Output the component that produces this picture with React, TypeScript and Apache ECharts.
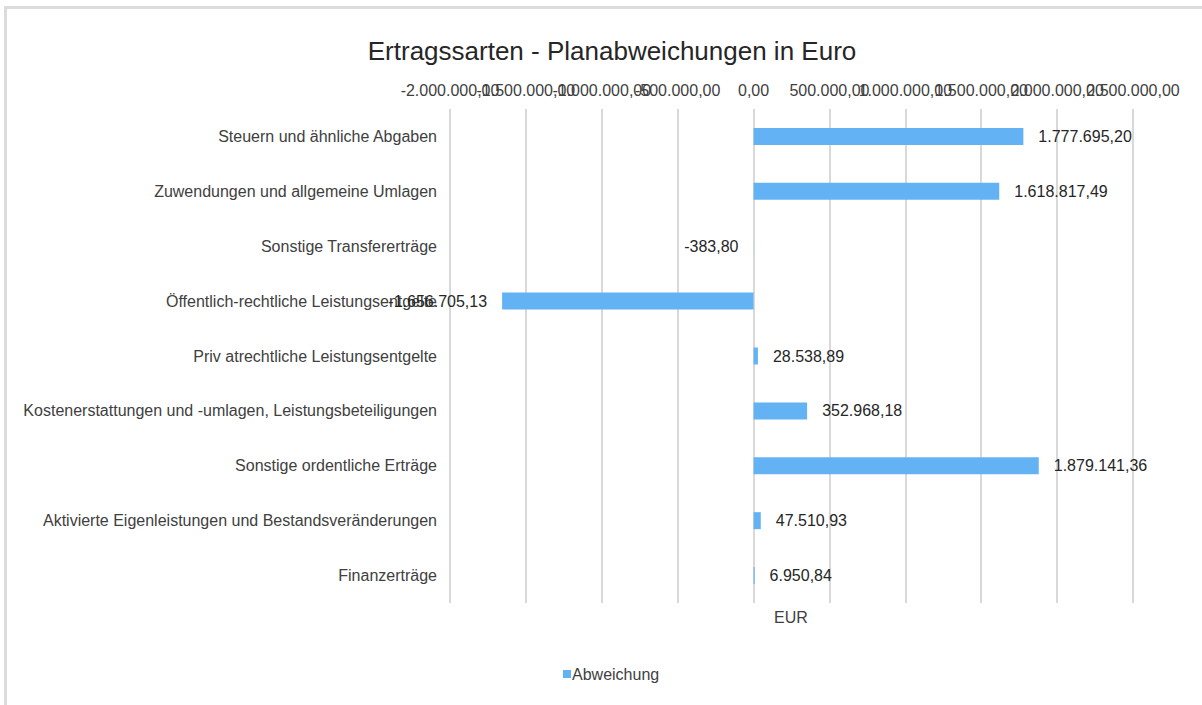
import React, { useEffect, useRef } from "react";
import * as echarts from "echarts";

const categories = [
  "Steuern und ähnliche Abgaben",
  "Zuwendungen und allgemeine Umlagen",
  "Sonstige Transfererträge",
  "Öffentlich-rechtliche Leistungsentgelte",
  "Priv atrechtliche Leistungsentgelte",
  "Kostenerstattungen und -umlagen, Leistungsbeteiligungen",
  "Sonstige ordentliche Erträge",
  "Aktivierte Eigenleistungen und Bestandsveränderungen",
  "Finanzerträge",
];
const abweichung = [
  1777695.2, 1618817.49, -383.8, -1656705.13, 28538.89, 352968.18, 1879141.36, 47510.93, 6950.84,
];
const axisMin = -2000000;
const axisMax = 2500000;
const axisStep = 500000;

function fmtDE(v: number): string {
  const neg = v < 0;
  const a = Math.abs(v);
  const fixed = a.toFixed(2);
  const [intPart, dec] = fixed.split(".");
  const withDots = intPart.replace(/\B(?=(\d{3})+(?!\d))/g, ".");
  return (neg ? "-" : "") + withDots + "," + dec;
}

const FONT = "Liberation Sans, Arial, sans-serif";

function makeXAxis(parity: number, showGrid: boolean) {
  return {
    type: "value",
    position: "top",
    offset: 0,
    min: axisMin,
    max: axisMax,
    interval: axisStep,
    axisLine: { show: false },
    axisTick: { show: false },
    splitLine: { show: showGrid, lineStyle: { color: "#d9d9d9", width: 2 } },
    axisLabel: {
      margin: 11,
      fontFamily: FONT,
      fontSize: 16,
      color: "#404040",
      showMinLabel: true,
      showMaxLabel: true,
      hideOverlap: false,
      formatter: (v: number) =>
        Math.round((v - axisMin) / axisStep) % 2 === parity ? fmtDE(v) : "",
    },
  };
}

export default function App() {
  const ref = useRef<HTMLDivElement>(null);
  useEffect(() => {
    if (!ref.current) return;
    const chart = echarts.init(ref.current, null, { renderer: "svg" });
    chart.setOption({
      animation: false,
      backgroundColor: "#ffffff",
      textStyle: { fontFamily: FONT },
      title: {
        text: "Ertragssarten - Planabweichungen in Euro",
        left: 607,
        textAlign: "center",
        top: 33,
        textStyle: { fontFamily: FONT, fontSize: 26, fontWeight: "normal", color: "#262626" },
      },
      legend: {
        bottom: 18,
        left: 558,
        itemWidth: 8,
        itemHeight: 8,
        icon: "rect",
        textStyle: { fontFamily: FONT, fontSize: 16, color: "#404040", padding: [0, 0, 0, -4] },
        data: ["Abweichung"],
      },
      grid: { left: 450, right: 69, top: 109, bottom: 102, containLabel: false },
      xAxis: [makeXAxis(0, true), makeXAxis(1, false)],
      yAxis: {
        type: "category",
        inverse: true,
        data: categories,
        axisLine: { show: false },
        axisTick: { show: false },
        axisLabel: { margin: 13, fontFamily: FONT, fontSize: 16, color: "#404040" },
      },
      graphic: [
        { type: "rect", shape: { x: 4, y: 6, width: 1198, height: 3 }, style: { fill: "#dcdcdc" } },
        { type: "rect", shape: { x: 4, y: 6, width: 3, height: 699 }, style: { fill: "#dcdcdc" } },
        {
          type: "text",
          left: 774,
          top: 609,
          style: { text: "EUR", fontFamily: FONT, fontSize: 16, fill: "#404040" },
        },
      ],
      series: [
        {
          name: "Abweichung",
          type: "bar",
          xAxisIndex: 0,
          data: abweichung.map((v) => ({
            value: v,
            label: { position: v < 0 ? "left" : "right" },
          })),
          barWidth: 17,
          itemStyle: { color: "#63b3f4" },
          label: {
            show: true,
            distance: 15,
            fontFamily: FONT,
            fontSize: 16,
            color: "#262626",
            formatter: (p: any) => fmtDE(p.value),
          },
        },
      ],
    });
    return () => chart.dispose();
  }, []);
  return (
    <div
      ref={ref}
      style={{ position: "fixed", left: 0, top: 0, width: 1202, height: 705 }}
    />
  );
}
